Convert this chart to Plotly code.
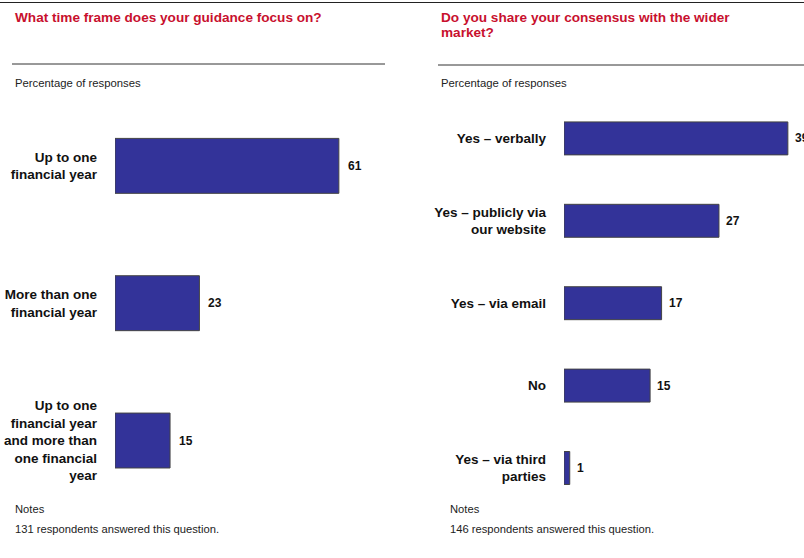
import plotly.graph_objects as go

W, H = 804, 558

left_title = "What time frame does your guidance focus on?"
left_cats = ["Up to one<br>financial year",
             "More than one<br>financial year",
             "Up to one<br>financial year<br>and more than<br>one financial<br>year"]
left_vals = [61, 23, 15]
left_note = "131 respondents answered this question."

right_title_lines = ["Do you share your consensus with the wider", "market?"]
right_cats = ["Yes \u2013 verbally",
              "Yes \u2013 publicly via<br>our website",
              "Yes \u2013 via email",
              "No",
              "Yes \u2013 via third<br>parties"]
right_vals = [39, 27, 17, 15, 1]
right_note = "146 respondents answered this question."

BAR = "#333399"
RED = "#C8102E"
FONT = "Liberation Sans, Arial, sans-serif"

def px(x):
    return x / W

def py(y):
    return (H - y) / H

fig = go.Figure()

fig.add_trace(go.Bar(
    x=left_vals, y=left_cats, orientation="h",
    marker=dict(color=BAR, line=dict(color="#444444", width=1)),
    width=0.4, xaxis="x", yaxis="y", hoverinfo="skip", showlegend=False))
fig.add_trace(go.Bar(
    x=right_vals, y=right_cats, orientation="h",
    marker=dict(color=BAR, line=dict(color="#444444", width=1)),
    width=0.4, xaxis="x2", yaxis="y2", hoverinfo="skip", showlegend=False))

annotations = []
for v, c in zip(left_vals, left_cats):
    annotations.append(dict(x=v, y=c, xref="x", yref="y", text=str(v),
                            showarrow=False, xanchor="left", xshift=7,
                            font=dict(family=FONT, size=12, color="#111111", weight="bold")))
for v, c in zip(right_vals, right_cats):
    annotations.append(dict(x=v, y=c, xref="x2", yref="y2", text=str(v),
                            showarrow=False, xanchor="left", xshift=5,
                            font=dict(family=FONT, size=12, color="#111111", weight="bold")))

def txt(x, y, text, size, color="#222222", bold=False):
    return dict(x=px(x), y=py(y), xref="paper", yref="paper", text=text,
                showarrow=False, xanchor="left", yanchor="middle", align="left",
                font=dict(family=FONT, size=size, color=color,
                          weight="bold" if bold else "normal"))

annotations += [
    txt(13, 17, left_title, 13.6, RED, True),
    txt(439, 17, right_title_lines[0], 13.6, RED, True),
    txt(439, 33, right_title_lines[1], 13.6, RED, True),
    txt(13, 83, "Percentage of responses", 11.3),
    txt(439, 83, "Percentage of responses", 11.3),
    txt(13, 509, "Notes", 11.2),
    txt(13, 529, left_note, 11.2),
    txt(448, 509, "Notes", 11.2),
    txt(448, 529, right_note, 11.2),
]

shapes = [
    dict(type="line", xref="paper", yref="paper", x0=0, x1=1, y0=py(2.5), y1=py(2.5),
         line=dict(color="#222222", width=1)),
    dict(type="line", xref="paper", yref="paper", x0=px(12), x1=px(385), y0=py(64), y1=py(64),
         line=dict(color="#333333", width=1)),
    dict(type="line", xref="paper", yref="paper", x0=px(438), x1=1, y0=py(65), y1=py(65),
         line=dict(color="#333333", width=1)),
]

ydom = [py(509.2), py(97.2)]
tickfont = dict(family=FONT, size=13.5, color="#111111", weight="bold")

fig.update_layout(
    width=W, height=H,
    margin=dict(l=0, r=0, t=0, b=0),
    paper_bgcolor="white", plot_bgcolor="white",
    showlegend=False,
    xaxis=dict(domain=[px(115), px(385)], range=[0, 270 / 3.67], visible=False),
    yaxis=dict(domain=ydom, type="category", categoryarray=left_cats,
               range=[len(left_cats) - 0.5, -0.5], showgrid=False, zeroline=False,
               showline=False, ticks="", tickfont=tickfont, ticklabelstandoff=17),
    xaxis2=dict(domain=[px(564), 1], range=[0, 240 / 5.74], visible=False),
    yaxis2=dict(domain=ydom, type="category", categoryarray=right_cats, anchor="x2",
                range=[len(right_cats) - 0.5, -0.5], showgrid=False, zeroline=False,
                showline=False, ticks="", tickfont=tickfont, ticklabelstandoff=17),
    annotations=annotations,
    shapes=shapes,
)

fig.write_html("out.html", config={"displayModeBar": False},
               post_script="document.body.style.margin='0';document.body.style.overflow='hidden';")
